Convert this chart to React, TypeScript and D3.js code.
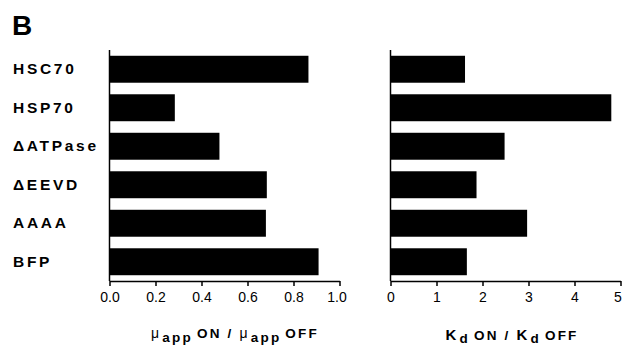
import React, { useRef, useEffect } from "react";
import { select, scaleBand, scaleLinear, axisBottom, format } from "d3";

const categories = ["HSC70", "HSP70", "\u0394ATPase", "\u0394EEVD", "AAAA", "BFP"];
const muRatio = [0.865, 0.284, 0.478, 0.684, 0.68, 0.909];
const kdRatio = [1.62, 4.8, 2.48, 1.87, 2.97, 1.66];
const muTicks = [0, 0.2, 0.4, 0.6, 0.8, 1.0];
const kdTicks = [0, 1, 2, 3, 4, 5];

const FONT = "'Liberation Sans', Arial, Helvetica, sans-serif";

const App = () => {
  const svgRef = useRef<SVGSVGElement>(null);

  useEffect(() => {
    const svg = select(svgRef.current);
    svg.selectAll("*").remove();

    const width = 623;
    const height = 349;
    const top = 50;
    const axisY = 281;

    const yScale = scaleBand()
      .domain(categories)
      .range([top, axisY])
      .paddingInner(0.3)
      .paddingOuter(0.15);

    const xMu = scaleLinear().domain([0, 1]).range([109.5, 339.5]);
    const xKd = scaleLinear().domain([0, 5]).range([390.5, 620.5]);

    svg.attr("width", width).attr("height", height);

    // panel label
    svg
      .append("text")
      .attr("x", 12)
      .attr("y", 35)
      .attr("font-family", FONT)
      .attr("font-weight", "bold")
      .attr("font-size", 28)
      .text("B");

    // category labels
    svg
      .selectAll(".cat")
      .data(categories)
      .enter()
      .append("text")
      .attr("class", "cat")
      .attr("x", 13)
      .attr("y", (d) => yScale(d)! + yScale.bandwidth() / 2 + 5)
      .attr("font-family", FONT)
      .attr("font-weight", "bold")
      .attr("font-size", 15.5)
      .attr("letter-spacing", 2.7)
      .text((d) => d);

    const panels = [
      { scale: xMu, values: muRatio, ticks: muTicks, fmt: format(".1f") },
      { scale: xKd, values: kdRatio, ticks: kdTicks, fmt: format("d") },
    ];

    panels.forEach((p) => {
      const [x0] = p.scale.range();

      // bars
      svg
        .append("g")
        .selectAll("rect")
        .data(p.values)
        .enter()
        .append("rect")
        .attr("x", p.scale(0))
        .attr("y", (d, i) => yScale(categories[i])!)
        .attr("width", (d) => p.scale(d) - p.scale(0))
        .attr("height", yScale.bandwidth())
        .attr("fill", "#000");

      // vertical axis line
      svg
        .append("line")
        .attr("x1", x0)
        .attr("x2", x0)
        .attr("y1", top)
        .attr("y2", axisY)
        .attr("stroke", "#000")
        .attr("stroke-width", 1.5);

      // x axis
      const ax = svg
        .append("g")
        .attr("transform", `translate(0,${axisY})`)
        .call(
          axisBottom(p.scale)
            .tickValues(p.ticks)
            .tickSizeInner(5)
            .tickSizeOuter(0)
            .tickPadding(6)
            .tickFormat((d) => p.fmt(d as number))
        );
      ax.select(".domain").attr("stroke-width", 1.5);
      ax.selectAll(".tick line").attr("stroke-width", 1.5);
      ax.selectAll("text")
        .attr("font-family", FONT)
        .attr("font-size", 14)
        .attr("fill", "#000");
      ax.selectAll(".tick:last-of-type text").attr("dx", -3);
    });

    // axis titles
    const muTitle = svg
      .append("text")
      .attr("x", 235)
      .attr("y", 338)
      .attr("text-anchor", "middle")
      .attr("font-family", FONT)
      .attr("font-weight", "bold")
      .attr("font-size", 13.5)
      .attr("letter-spacing", 2.2);
    muTitle.append("tspan").attr("font-weight", "normal").attr("font-size", 14).text("\u03bc");
    muTitle.append("tspan").attr("dy", 4).attr("dx", 1).text("app");
    muTitle.append("tspan").attr("dy", -4).attr("dx", 4).text("ON / ");
    muTitle.append("tspan").attr("font-weight", "normal").attr("font-size", 14).text("\u03bc");
    muTitle.append("tspan").attr("dy", 4).attr("dx", 1).text("app");
    muTitle.append("tspan").attr("dy", -4).attr("dx", 4).text("OFF");

    const kdTitle = svg
      .append("text")
      .attr("x", 512)
      .attr("y", 340)
      .attr("text-anchor", "middle")
      .attr("font-family", FONT)
      .attr("font-weight", "bold")
      .attr("font-size", 13.5)
      .attr("letter-spacing", 2.2);
    kdTitle.append("tspan").attr("font-size", 15).text("K");
    kdTitle.append("tspan").attr("dy", 3).attr("dx", 1).text("d");
    kdTitle.append("tspan").attr("dy", -3).attr("dx", 4).text("ON / ");
    kdTitle.append("tspan").attr("font-size", 15).text("K");
    kdTitle.append("tspan").attr("dy", 3).attr("dx", 1).text("d");
    kdTitle.append("tspan").attr("dy", -3).attr("dx", 4).text("OFF");
  }, []);

  return (
    <div style={{ position: "absolute", left: 0, top: 0, width: 623, height: 349, background: "#fff" }}>
      <svg ref={svgRef} style={{ display: "block" }} />
    </div>
  );
};

export default App;
